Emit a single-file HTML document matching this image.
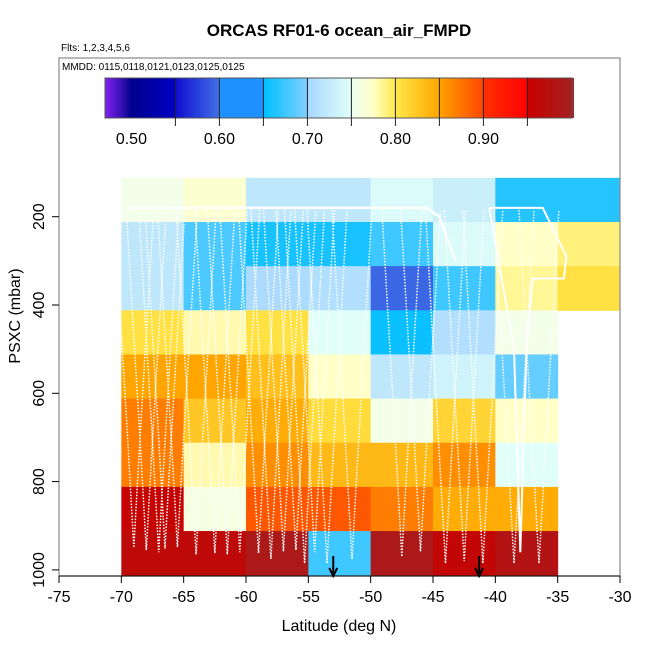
<!DOCTYPE html>
<html><head><meta charset="utf-8"><style>
html,body{margin:0;padding:0;background:#fff;}
svg text{font-family:"Liberation Sans",sans-serif;}
</style></head><body>
<svg id="chart" width="650" height="650" xmlns="http://www.w3.org/2000/svg">
<text x="339" y="36" text-anchor="middle" font-size="17" font-weight="bold">ORCAS RF01-6 ocean_air_FMPD</text>
<text x="61" y="51" font-size="10">Flts: 1,2,3,4,5,6</text>
<g id="cells"></g>
<g id="tracks"></g>
<rect x="59" y="58" width="561" height="518" fill="none" stroke="#888" stroke-width="1.2"/>
<text x="62" y="70" font-size="10">MMDD: 0115,0118,0121,0123,0125,0125</text>
<g id="cbar"></g>
<g id="axes"></g>
<text x="339" y="631" text-anchor="middle" font-size="16">Latitude (deg N)</text>
<text transform="translate(20,316) rotate(-90)" text-anchor="middle" font-size="16">PSXC (mbar)</text>
</svg>
<script>
const lats = [-70,-65,-60,-55,-50,-45,-40,-35];
const presEdges = [112,212,312,412,512,612,712,812,912,1012];
const values = [
 [0.755,0.72,0.72,0.805,0.85,0.87,0.87,0.955,0.965],
 [0.77,0.68,0.68,0.78,0.85,0.825,0.78,0.76,0.965],
 [0.72,0.66,0.705,0.805,0.83,0.845,0.86,0.89,0.99],
 [0.72,0.66,0.71,0.75,0.775,0.81,0.835,0.89,0.675],
 [0.745,0.675,0.595,0.655,0.72,0.755,0.835,0.87,0.99],
 [0.73,0.745,0.675,0.71,0.735,0.815,0.86,0.845,0.96],
 [0.665,0.775,0.785,0.755,0.69,0.775,0.75,0.845,0.98],
 [0.665,0.79,0.805,null,null,null,null,null,null]
];
const xTicks = [-75,-70,-65,-60,-55,-50,-45,-40,-35,-30];
const yTicks = [200,400,600,800,1000];
const cbTicks = [0.50,0.60,0.70,0.80,0.90];
const cbSeps = [0.55,0.60,0.65,0.70,0.75,0.80,0.85,0.90,0.95];
const arrowLats = [-53,-41.3];
const topTrack = [[-69.5,180],[-45.5,180],[-44.5,200],[-43.2,300]];
const rightTrack = [[-40.5,180],[-36.2,180],[-35.5,220],[-34.3,290],[-34.5,340],[-37,340],[-37.5,500],[-38,960],[-38.5,500],[-39.5,340],[-40.5,180]];
const profiles = [-69,-68,-67,-66.5,-65.5,-64,-62.5,-61.5,-60.5,-59,-58,-57,-56,-55.3,-54.5,-53.5,-51.5,-47.5,-46,-44,-42.5,-41,-38.5,-36.5];
const profileBottoms = [950,955,960,952,948,965,962,965,960,962,975,958,955,985,960,985,975,970,958,985,980,985,985,985];

const sx = v => 59 + (v + 75) * 561 / 45;
const sy = p => 216.7 + (p - 200) * 0.4415;
const cbx = v => 105 + (v - 0.47) * 880;
const stops = [[0.47,[128,32,240]],[0.49,[48,16,176]],[0.50,[0,0,139]],[0.55,[0,0,200]],[0.551,[16,16,208]],[0.60,[64,112,230]],[0.601,[32,144,255]],[0.65,[30,144,255]],[0.651,[0,191,255]],[0.70,[128,208,255]],[0.701,[168,216,255]],[0.75,[224,255,248]],[0.751,[240,255,240]],[0.775,[255,255,200]],[0.80,[255,232,74]],[0.85,[255,165,0]],[0.851,[255,160,0]],[0.90,[255,69,0]],[0.901,[255,48,0]],[0.95,[255,0,0]],[0.951,[200,0,0]],[1.0,[165,32,32]]];
function col(v){
  if(v<=stops[0][0]) return 'rgb('+stops[0][1]+')';
  for(let i=1;i<stops.length;i++){ if(v<=stops[i][0]){const a=stops[i-1],b=stops[i];const t=(v-a[0])/(b[0]-a[0]);return 'rgb('+a[1].map((c,k)=>Math.round(c+(b[1][k]-c)*t)).join(',')+')';}}
  return 'rgb('+stops[stops.length-1][1]+')';
}
const NS='http://www.w3.org/2000/svg';
function mk(tag,attrs,parent){const e=document.createElementNS(NS,tag);for(const k in attrs)e.setAttribute(k,attrs[k]);parent.appendChild(e);return e;}
const cells=document.getElementById('cells');
lats.forEach((la,i)=>{values[i].forEach((v,j)=>{ if(v===null) return;
  const r=mk('rect',{x:sx(la),y:sy(presEdges[j]),width:sx(la+5)-sx(la)+0.5,height:sy(presEdges[j+1])-sy(presEdges[j])+0.5,fill:col(v)},cells);
  
  
});});
const tr=document.getElementById('tracks');
const pts=a=>a.map(q=>sx(q[0]).toFixed(1)+','+sy(q[1]).toFixed(1)).join(' ');
let l=mk('polyline',{points:pts(topTrack),fill:'none',stroke:'#fff','stroke-width':2.5},tr);


l=mk('polyline',{points:pts(rightTrack),fill:'none',stroke:'#fff','stroke-width':2},tr);


profiles.forEach((la,i)=>{
  const p=[[la-1.6,185],[la-0.5,profileBottoms[i]-250],[la,profileBottoms[i]],[la+0.5,profileBottoms[i]-250],[la+1.6,185]];
  const e=mk('polyline',{points:pts(p),fill:'none',stroke:'#fff','stroke-width':1.5,'stroke-dasharray':'1.5,1.5'},tr);
  
  
});
const cb=document.getElementById('cbar');
for(let v=0.47;v<1.0;v+=0.0025){
  const r=mk('rect',{x:cbx(v),y:78,width:2.6,height:40,fill:col(v+0.00125)},cb);
  
  
}
mk('rect',{x:105,y:78,width:467,height:40,fill:'none',stroke:'#555','stroke-width':1},cb);
cbSeps.forEach(v=>{const e=mk('line',{x1:cbx(v),x2:cbx(v),y1:78,y2:126,stroke:'#222','stroke-width':1},cb);
  
  });
cbTicks.forEach(v=>{const t=mk('text',{x:cbx(v),y:144,'text-anchor':'middle','font-size':16},cb);t.textContent=v.toFixed(2);
  
  });
const ax=document.getElementById('axes');
mk('line',{x1:59,x2:620,y1:576,y2:576,stroke:'#000'},ax);
xTicks.forEach(v=>{mk('line',{x1:sx(v),x2:sx(v),y1:576,y2:583,stroke:'#000'},ax);
  const t=mk('text',{x:sx(v),y:602,'text-anchor':'middle','font-size':16},ax);t.textContent=v;
  
  });
yTicks.forEach(v=>{mk('line',{x1:52,x2:59,y1:sy(v),y2:sy(v),stroke:'#000'},ax);
  const t=mk('text',{transform:'translate(44,'+sy(v)+') rotate(-90)','text-anchor':'middle','font-size':16},ax);t.textContent=v;
  
  });
arrowLats.forEach(v=>{const g=mk('g',{},ax);
  
  
  mk('line',{x1:sx(v),x2:sx(v),y1:556,y2:576,stroke:'#000','stroke-width':2},g);
  mk('polyline',{points:(sx(v)-4)+',568 '+sx(v)+',576 '+(sx(v)+4)+',568',fill:'none',stroke:'#000','stroke-width':2},g);});
</script>
</body></html>
